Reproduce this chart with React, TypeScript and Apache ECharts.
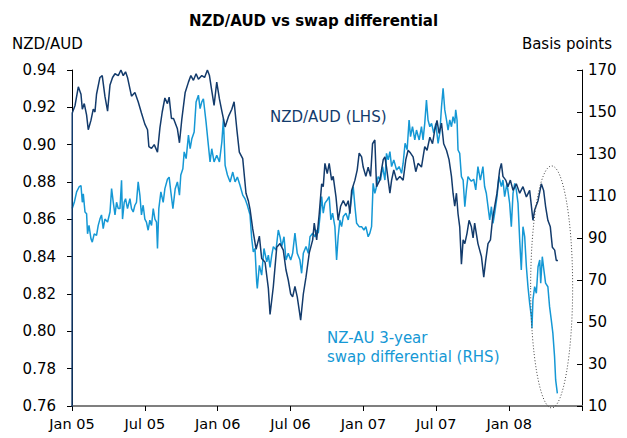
import React, { useEffect, useRef } from "react";
import * as echarts from "echarts";

const chartTitle = "NZD/AUD vs swap differential";
const leftAxisName = "NZD/AUD";
const rightAxisName = "Basis points";
const xTickLabels = ["Jan 05", "Jul 05", "Jan 06", "Jul 06", "Jan 07", "Jul 07", "Jan 08", ""];
const nzdLabel = "NZD/AUD (LHS)";
const swapLabelLines = ["NZ-AU 3-year", "swap differential (RHS)"];

// x = months since 1 Jan 2005
const nzdAud: [number, number][] = [
  [0, 0.70], [0.02, 0.917], [0.25, 0.921], [0.52, 0.931], [0.74, 0.927], [0.85, 0.919], [1.01, 0.922],
  [1.2, 0.916], [1.34, 0.908], [1.56, 0.913], [1.75, 0.919], [1.89, 0.9175], [2.02, 0.927], [2.3, 0.936],
  [2.49, 0.937], [2.71, 0.926], [2.93, 0.918], [3.13, 0.932], [3.34, 0.936], [3.54, 0.938], [3.81, 0.937],
  [4.03, 0.94], [4.22, 0.937], [4.41, 0.939], [4.57, 0.936], [4.9, 0.926], [5.18, 0.928], [5.45, 0.923],
  [5.72, 0.917], [6.0, 0.911], [6.22, 0.908], [6.33, 0.899], [6.55, 0.898], [6.77, 0.9], [7.04, 0.896],
  [7.24, 0.909], [7.43, 0.9175], [7.65, 0.925], [7.86, 0.922], [8.0, 0.9255], [8.19, 0.914], [8.36, 0.914],
  [8.68, 0.9085], [8.85, 0.901], [9.05, 0.914], [9.32, 0.928], [9.59, 0.9335], [9.79, 0.937], [10.0, 0.9345],
  [10.22, 0.938], [10.41, 0.935], [10.69, 0.937], [10.92, 0.936], [11.15, 0.94], [11.32, 0.937], [11.51, 0.929],
  [11.7, 0.921], [11.92, 0.9335], [12.14, 0.9245], [12.34, 0.918], [12.61, 0.9095], [12.88, 0.915], [13.16, 0.919],
  [13.35, 0.923], [13.57, 0.9085], [13.78, 0.896], [14.06, 0.8925], [14.33, 0.874], [14.52, 0.87], [14.66, 0.8655],
  [14.88, 0.855], [15.16, 0.844], [15.43, 0.851], [15.62, 0.839], [15.9, 0.837], [16.17, 0.823], [16.31, 0.809],
  [16.58, 0.824], [16.86, 0.845], [17.13, 0.847], [17.4, 0.8435], [17.62, 0.833], [17.81, 0.8275], [18.01, 0.82],
  [18.17, 0.8185], [18.36, 0.824], [18.55, 0.8185], [18.72, 0.811], [18.83, 0.806], [19.05, 0.82], [19.27, 0.829],
  [19.54, 0.842], [19.82, 0.849], [19.95, 0.858], [20.15, 0.849], [20.36, 0.863], [20.56, 0.879], [20.69, 0.8775],
  [20.83, 0.89], [21.02, 0.8845], [21.18, 0.89], [21.38, 0.881], [21.51, 0.883], [21.74, 0.872], [21.92, 0.8595],
  [22.12, 0.867], [22.34, 0.87], [22.56, 0.867], [22.75, 0.87], [22.89, 0.863], [23.03, 0.8755], [23.3, 0.881],
  [23.49, 0.8865], [23.65, 0.8955], [23.85, 0.8935], [23.98, 0.888], [24.2, 0.883], [24.39, 0.888], [24.59, 0.883],
  [24.75, 0.9005], [24.94, 0.9025], [25.08, 0.8775], [25.35, 0.881], [25.63, 0.892], [25.77, 0.8935], [25.9, 0.888],
  [26.18, 0.874], [26.32, 0.881], [26.5, 0.8865], [26.73, 0.881], [27.0, 0.883], [27.27, 0.881], [27.49, 0.892],
  [27.68, 0.897], [27.88, 0.8955], [28.09, 0.8935], [28.31, 0.8855], [28.5, 0.89], [28.78, 0.888], [29.05, 0.899],
  [29.24, 0.897], [29.47, 0.904], [29.69, 0.9005], [29.88, 0.908], [30.06, 0.913], [30.23, 0.906], [30.43, 0.9115],
  [30.61, 0.9005], [30.84, 0.897], [31.05, 0.892], [31.25, 0.883], [31.38, 0.874], [31.52, 0.867], [31.66, 0.874],
  [31.79, 0.863], [31.93, 0.856], [32.07, 0.836], [32.21, 0.849], [32.35, 0.847], [32.53, 0.8525], [32.7, 0.8595],
  [32.89, 0.856], [33.03, 0.85], [33.16, 0.858], [33.43, 0.847], [33.72, 0.84], [33.91, 0.829], [34.07, 0.838],
  [34.26, 0.847], [34.46, 0.849], [34.62, 0.8595], [34.81, 0.867], [35.0, 0.874], [35.22, 0.8865], [35.36, 0.89],
  [35.49, 0.883], [35.72, 0.881], [35.9, 0.8775], [36.1, 0.881], [36.32, 0.8755], [36.59, 0.879], [36.87, 0.874],
  [37.14, 0.8775], [37.42, 0.872], [37.69, 0.8755], [37.96, 0.8595], [38.1, 0.865], [38.38, 0.87], [38.65, 0.879],
  [38.84, 0.8755], [39.0, 0.867], [39.19, 0.8595], [39.39, 0.856], [39.56, 0.845], [39.75, 0.8435], [39.88, 0.838],
  [40.02, 0.838],
];

const swapDiff: [number, number][] = [
  [0.02, 104], [0.19, 107], [0.38, 112], [0.58, 114.3], [0.74, 115], [0.85, 107], [0.93, 111], [1.07, 102.4],
  [1.2, 101.6], [1.28, 92], [1.4, 96], [1.56, 89.7], [1.67, 88], [1.83, 92], [2.02, 91.3], [2.16, 96], [2.3, 99],
  [2.43, 101], [2.57, 94.5], [2.71, 99], [2.93, 97.6], [3.13, 102.4], [3.26, 113.5], [3.4, 107], [3.54, 101],
  [3.67, 107], [3.81, 104], [3.95, 104], [4.08, 117.5], [4.16, 99], [4.3, 107], [4.41, 108.7], [4.57, 104],
  [4.77, 108.7], [4.9, 104], [5.04, 102.4], [5.18, 105.6], [5.31, 107], [5.45, 116.7], [5.59, 110.4], [5.72, 101],
  [5.86, 105.6], [6.0, 99], [6.13, 97.6], [6.27, 93.7], [6.41, 98.5], [6.55, 96], [6.69, 104], [6.83, 99],
  [6.96, 97.6], [7.04, 85], [7.15, 104], [7.32, 112], [7.51, 107], [7.65, 113.5], [7.86, 118], [8.0, 119],
  [8.14, 112], [8.31, 104], [8.5, 113.5], [8.68, 116.7], [8.85, 110.4], [8.96, 120], [9.13, 123], [9.24, 131],
  [9.4, 127.8], [9.59, 139], [9.73, 132.5], [9.87, 137.3], [10.06, 140.5], [10.22, 154.8], [10.41, 158],
  [10.55, 151.6], [10.69, 154.8], [10.82, 156.3], [11.04, 145.2], [11.23, 134.2], [11.37, 126.2], [11.51, 132.5],
  [11.7, 126.2], [11.92, 129.4], [12.14, 126.2], [12.34, 135.7], [12.47, 146.8], [12.61, 124.6], [12.8, 120],
  [13.02, 116.7], [13.24, 121.4], [13.43, 116.7], [13.62, 119], [13.84, 115], [14.06, 110.4], [14.25, 108.7],
  [14.44, 105.6], [14.66, 101], [14.8, 89.7], [14.93, 83.4], [15.07, 85], [15.21, 69], [15.26, 66], [15.43, 77],
  [15.62, 72.3], [15.81, 85], [16.04, 78.6], [16.17, 81.8], [16.31, 76], [16.45, 81.8], [16.58, 85.9], [16.8, 84.3],
  [16.99, 93.8], [17.13, 90.6], [17.27, 85.9], [17.46, 90.6], [17.62, 79.5], [17.81, 82.7], [18.01, 79.5],
  [18.17, 82.7], [18.36, 92.3], [18.55, 82.7], [18.77, 79.5], [18.91, 73.2], [19.05, 82.7], [19.27, 85.9],
  [19.46, 82.7], [19.6, 90.6], [19.82, 92.3], [20.01, 90.6], [20.15, 93.8], [20.28, 92.3], [20.42, 100.2],
  [20.56, 109.7], [20.69, 101.8], [20.83, 106.6], [21.02, 108.1], [21.18, 109.7], [21.32, 98.6], [21.46, 101.8],
  [21.65, 95.4], [21.79, 79.5], [21.92, 90.6], [22.06, 98.6], [22.2, 95.4], [22.34, 100.2], [22.56, 101.8],
  [22.75, 98.6], [22.89, 103.4], [23.03, 109.7], [23.16, 114.5], [23.3, 105], [23.44, 97], [23.65, 95.4],
  [23.85, 95.4], [24.04, 93.8], [24.2, 95.4], [24.39, 90.6], [24.53, 92.3], [24.67, 95.4], [24.8, 116],
  [24.94, 111.3], [25.08, 114.5], [25.21, 119.2], [25.41, 117.6], [25.58, 124], [25.77, 117.6], [25.9, 130.3],
  [26.04, 127.2], [26.18, 131.1], [26.32, 124], [26.5, 127.2], [26.73, 122.4], [26.94, 124], [27.14, 120.8],
  [27.27, 125.6], [27.43, 135.1], [27.6, 132], [27.76, 146.2], [27.88, 138.3], [28.04, 143], [28.23, 136.7],
  [28.37, 141.4], [28.59, 136.7], [28.78, 143], [28.91, 136.7], [29.05, 144.6], [29.19, 155.7], [29.32, 146.2],
  [29.47, 143], [29.61, 144.6], [29.79, 139.9], [29.96, 144.6], [30.15, 135.1], [30.29, 139.9], [30.43, 152.5],
  [30.56, 161.3], [30.7, 151], [30.84, 146.2], [30.97, 141.4], [31.11, 146.2], [31.25, 143], [31.38, 147.8],
  [31.52, 144.6], [31.6, 151], [31.71, 146.2], [31.79, 131.9], [31.93, 130.3], [32.07, 119.2], [32.21, 117.6],
  [32.35, 104.9], [32.48, 112.9], [32.61, 119.2], [32.75, 118], [32.89, 117], [33.08, 118], [33.25, 112.9],
  [33.43, 124], [33.63, 117.6], [33.84, 124], [33.98, 114.5], [34.12, 111.3], [34.26, 104.9], [34.4, 98.6],
  [34.54, 104.9], [34.67, 97], [34.81, 101.8], [35.0, 109.7], [35.16, 119.2], [35.36, 114.5], [35.49, 117.6],
  [35.63, 109.7], [35.82, 116], [36.04, 106.6], [36.18, 95.4], [36.32, 111.3], [36.46, 116], [36.59, 112.9],
  [36.73, 106.6], [36.87, 89], [37.0, 74.8], [37.14, 95.4], [37.28, 90.6], [37.42, 76.3], [37.55, 66.8],
  [37.69, 58.9], [37.83, 52.6], [37.88, 47], [37.96, 60.5], [38.1, 66.8], [38.24, 63.7], [38.38, 76.3],
  [38.52, 79.5], [38.6, 68.5], [38.73, 81.1], [38.86, 74.8], [39.0, 68.5], [39.19, 66.8], [39.33, 57.3],
  [39.47, 51], [39.6, 44.7], [39.74, 33.5], [39.83, 22.4], [39.97, 16],
];

const NAVY = "#133b6c";
const LIGHT = "#1598d5";
const FONT = "DejaVu Sans";

export default function App() {
  const ref = useRef<HTMLDivElement>(null);
  useEffect(() => {
    if (!ref.current) return;
    const chart = echarts.init(ref.current, undefined, { renderer: "svg" });
    const axisLineStyle = { color: "#000", width: 1 };
    chart.setOption({
      animation: false,
      backgroundColor: "#fff",
      title: {
        text: chartTitle,
        left: "center",
        top: 8,
        textStyle: { fontFamily: FONT, fontSize: 15, fontWeight: "bold", color: "#000" },
      },
      grid: { left: 72, right: 45, top: 70, bottom: 32, containLabel: false },
      xAxis: {
        type: "value",
        min: 0,
        max: 42,
        interval: 6,
        splitLine: { show: false },
        axisLine: { show: true, lineStyle: { color: "#7f7f7f", width: 2 } },
        axisTick: { show: true, inside: false, length: 5, lineStyle: { color: "#000" } },
        axisLabel: {
          fontFamily: FONT,
          fontSize: 14.5,
          color: "#000",
          margin: 10,
          formatter: (v: number) => xTickLabels[Math.round(v / 6)] ?? "",
        },
      },
      yAxis: [
        {
          type: "value",
          min: 0.76,
          max: 0.94,
          interval: 0.02,
          position: "left",
          splitLine: { show: false },
          axisLine: { show: true, lineStyle: axisLineStyle },
          axisTick: { show: true, inside: false, length: 5, lineStyle: { color: "#000" } },
          axisLabel: {
            fontFamily: FONT,
            fontSize: 15,
            color: "#000",
            margin: 16,
            formatter: (v: number) => v.toFixed(2),
          },
        },
        {
          type: "value",
          min: 10,
          max: 170,
          interval: 20,
          position: "right",
          splitLine: { show: false },
          axisLine: { show: true, lineStyle: axisLineStyle },
          axisTick: { show: true, inside: true, length: 5, lineStyle: { color: "#000" } },
          axisLabel: { fontFamily: FONT, fontSize: 15, color: "#000", margin: 6 },
        },
      ],
      series: [
        {
          type: "line",
          name: "swap",
          yAxisIndex: 1,
          data: swapDiff,
          showSymbol: false,
          lineStyle: { color: LIGHT, width: 1.5 },
          z: 2,
        },
        {
          type: "line",
          name: "nzd",
          yAxisIndex: 0,
          data: nzdAud,
          showSymbol: false,
          lineStyle: { color: NAVY, width: 1.5 },
          z: 3,
        },
      ],
    });
    const c = chart.convertToPixel({ xAxisIndex: 0, yAxisIndex: 1 }, [39.5, 66.7]) as number[];
    chart.setOption({
      graphic: [
        { type: "text", left: 12, top: 36, style: { text: leftAxisName, font: `15px '${FONT}'`, fill: "#000" } },
        { type: "text", right: 15, top: 36, style: { text: rightAxisName, font: `15px '${FONT}'`, fill: "#000" } },
        { type: "text", left: 270, top: 109, style: { text: nzdLabel, font: `15px '${FONT}'`, fill: NAVY } },
        {
          type: "text",
          left: 327,
          top: 328,
          style: { text: swapLabelLines.join("\n"), font: `15px '${FONT}'`, lineHeight: 19, fill: LIGHT },
        },
        {
          type: "ellipse",
          shape: { cx: c[0], cy: c[1], rx: 21, ry: 121 },
          style: { fill: "none", stroke: "#444", lineWidth: 1, lineDash: [1, 2] },
          z: 10,
        },
      ],
    });
    return () => chart.dispose();
  }, []);
  return (
    <div
      ref={ref}
      style={{ position: "fixed", left: 0, top: 0, width: 627, height: 438 }}
    />
  );
}
